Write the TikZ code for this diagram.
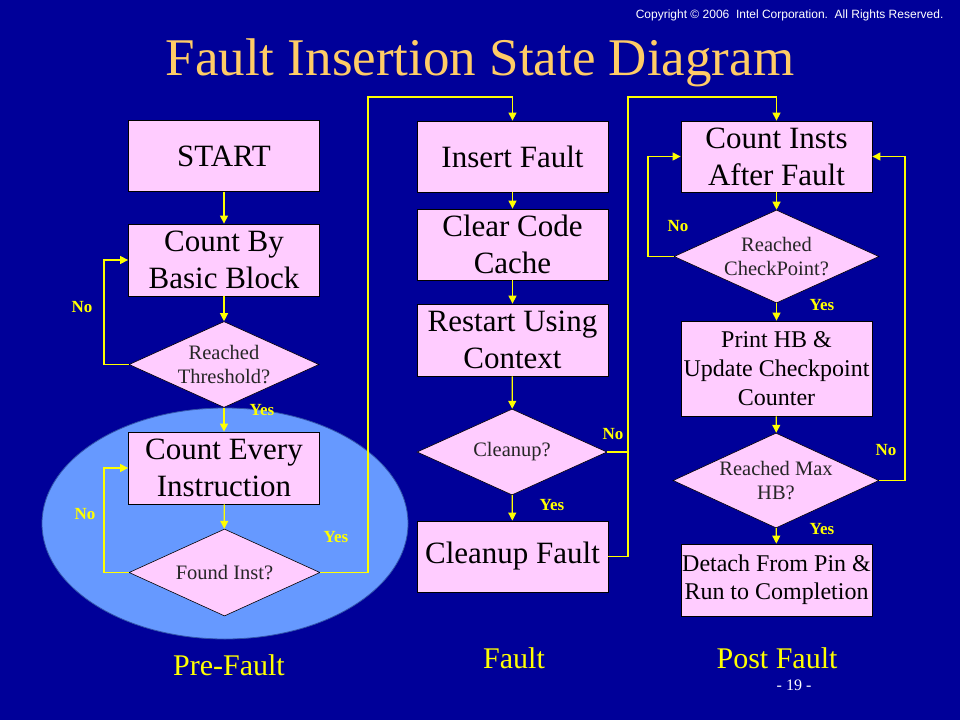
\documentclass[tikz,border=0pt]{standalone}
\usepackage{fontspec}
\setmainfont{Liberation Serif}
\newfontfamily\sansf{Liberation Sans}
\usetikzlibrary{shapes.geometric,arrows.meta}
\definecolor{bgblue}{HTML}{000099}
\definecolor{boxpink}{HTML}{FFCCFF}
\definecolor{ellblue}{HTML}{6699FF}
\definecolor{ellrim}{HTML}{3355AA}
\definecolor{titlecol}{HTML}{FFCC66}
\definecolor{lineyel}{HTML}{FFFF00}
\tikzset{
  stepbox/.style={draw=black, line width=0.8pt, fill=boxpink, minimum width=191pt, minimum height=71pt,
    inner sep=0pt, align=center, font=\fontsize{31}{37}\selectfont},
  smallbox/.style={stepbox, font=\fontsize{24}{29}\selectfont},
  decide/.style={diamond, draw=black, line width=0.6pt, fill=boxpink, aspect=2.2, inner sep=-8pt,
    align=center, text=black!85, font=\fontsize{20.5}{24.5}\selectfont},
  conn/.style={draw=lineyel, line width=1.2pt},
  arr/.style={conn, -{Triangle[length=8pt,width=8pt]}},
  yn/.style={text=lineyel, font=\fontsize{17}{17}\selectfont\bfseries},
  phase/.style={text=lineyel, font=\fontsize{30}{30}\selectfont},
}
\begin{document}
\begin{tikzpicture}[x=1pt,y=-1pt]
\fill[bgblue] (0,0) rectangle (960,720);
\useasboundingbox (0,0) rectangle (960,720);

% ellipse of pre-fault loop
\filldraw[fill=ellblue, draw=ellrim, line width=0.8pt] (225,523.5) ellipse [x radius=183pt, y radius=115.5pt];

% header texts
\node[anchor=east, text=white, font=\sansf\fontsize{12}{12}\selectfont] (copy) at (947,15) {Copyright \textcopyright{} 2006\ \ Intel Corporation.\ \ All Rights Reserved.};
\node[text=titlecol, font=\fontsize{53}{53}\selectfont] (title) at (480,63) {Fault Insertion State Diagram};

% left column
\node[stepbox] (start) at (224,156) {START};
\node[stepbox, minimum height=72pt] (cbb) at (224,260) {Count By\\Basic Block};
\node[decide, minimum width=190pt, minimum height=86pt] (thr) at (224,364.5) {Reached\\Threshold?};
\node[stepbox, minimum height=72pt] (cei) at (224,468) {Count Every\\Instruction};
\node[decide, minimum width=191pt, minimum height=87pt] (fnd) at (224.5,572.5) {Found Inst?};

% middle column
\node[stepbox] (ins) at (512.5,156.5) {Insert Fault};
\node[stepbox] (ccc) at (512.5,244.5) {Clear Code\\Cache};
\node[stepbox, minimum height=72pt] (ruc) at (512.5,340) {Restart Using\\Context};
\node[decide, minimum width=190pt, minimum height=86pt] (cln) at (512,452) {Cleanup?};
\node[stepbox] (clf) at (512.5,556.5) {Cleanup Fault};

% right column
\node[stepbox] (cia) at (776.5,156.5) {Count Insts\\After Fault};
\node[decide, minimum width=205pt, minimum height=93pt] (chk) at (776.5,256.5) {Reached\\CheckPoint?};
\node[smallbox, minimum height=95pt] (phb) at (776.5,368.5) {Print HB \&\\Update Checkpoint\\Counter};
\node[decide, minimum width=206pt, minimum height=95pt] (mhb) at (776,480.5) {Reached Max\\HB?};
\node[smallbox, minimum height=72pt, font=\fontsize{24}{28}\selectfont] (det) at (776.5,580) {Detach From Pin \&\\Run to Completion};

% route coordinates
\coordinate (lA) at (104,0);
\coordinate (yA) at (368,97);
\coordinate (yB) at (628,97);
\coordinate (lC) at (648,0);
\coordinate (rC) at (905,0);

% left connectors
\draw[arr] (start) -- (cbb);
\draw[arr] (cbb) -- (thr);
\draw[arr] (thr) -- (cei);
\draw[arr] (cei) -- (fnd);
\draw[arr] (thr.west) -- (thr.west -| lA) |- (cbb.west);
\draw[arr] (fnd.west) -- (fnd.west -| lA) |- (cei.west);
\draw[arr] (fnd.east) -| (yA) -- (yA -| ins.north) -- (ins.north);

% middle connectors
\draw[arr] (ins) -- (ccc);
\draw[arr] (ccc) -- (ruc);
\draw[arr] (ruc) -- (cln);
\draw[arr] (cln) -- (clf);
\draw[conn] (cln.east) -- (cln.east -| yB);
\draw[arr] (clf.east) -| (yB) -- (yB -| cia.north) -- (cia.north);

% right connectors
\draw[arr] (cia) -- (chk);
\draw[arr] (chk) -- (phb);
\draw[arr] (phb) -- (mhb);
\draw[arr] (mhb) -- (det);
\draw[arr] (chk.west) -- (chk.west -| lC) |- (cia.west);
\draw[arr] (mhb.east) -- (mhb.east -| rC) |- (cia.east);

% yes / no labels
\node[yn] (n1) at (82,307) {No};
\node[yn] (y1) at (262,410) {Yes};
\node[yn] (n2) at (85,514) {No};
\node[yn] (y2) at (336,537) {Yes};
\node[yn] (n3) at (613,434) {No};
\node[yn] (y3) at (552,505) {Yes};
\node[yn] (n4) at (678,226) {No};
\node[yn] (y4) at (822,305) {Yes};
\node[yn] (n5) at (886,450) {No};
\node[yn] (y5) at (822,529) {Yes};

% phase labels
\node[phase] (pre) at (229,665) {Pre-Fault};
\node[phase] (flt) at (514,658) {Fault};
\node[phase] (post) at (777,658) {Post Fault};
\node[text=white, font=\fontsize{16}{16}\selectfont] (page) at (794,685) {- 19 -};
\end{tikzpicture}
\end{document}
